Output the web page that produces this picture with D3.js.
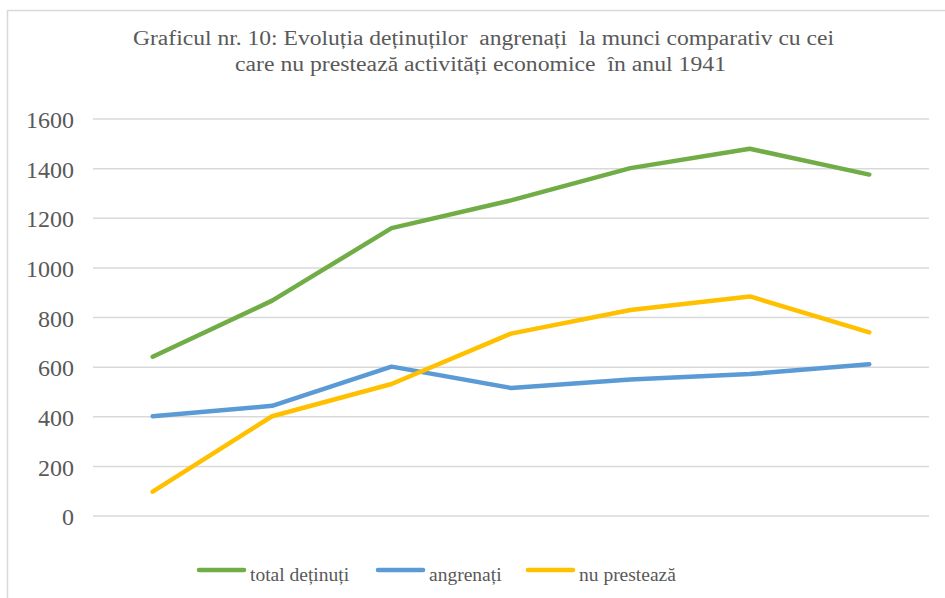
<!DOCTYPE html>
<html>
<head>
<meta charset="utf-8">
<script src="https://cdn.jsdelivr.net/npm/d3@7"></script>
<style>
  body { margin: 0; background: #fff; }
  svg { display: block; }
  svg text { font-family: 'Liberation Serif', 'Times New Roman', Times, 'DejaVu Serif', serif; fill: #595959; white-space: pre; }
</style>
</head>
<body>
<svg></svg>
<script>
// data (no category labels are shown on the x axis)
var categories = ['1', '2', '3', '4', '5', '6', '7'];
var totalDetinuti = [642, 868, 1160, 1272, 1402, 1480, 1376];
var angrenati = [402, 444, 602, 516, 550, 572, 612];
var nuPresteaza = [98, 402, 532, 735, 830, 885, 740];
var yTicks = [0, 200, 400, 600, 800, 1000, 1200, 1400, 1600];

var titleLines = [
    'Graficul nr. 10: Evoluția deținuților  angrenați  la munci comparativ cu cei',
    'care nu prestează activități economice  în anul 1941'
];

var series = [
    { name: 'total deținuți', values: totalDetinuti, color: '#70ad47' },
    { name: 'angrenați', values: angrenati, color: '#5b9bd5' },
    { name: 'nu prestează', values: nuPresteaza, color: '#ffc000' }
];

var serif = "'Liberation Serif', 'Times New Roman', Times, 'DejaVu Serif', serif";

function start() {
    var svg = d3.select('svg')
        .attr('width', 945)
        .attr('height', 598);

    // chart frame (only top and left edges are visible in the crop)
    svg.append('rect')
        .attr('x', 7.5).attr('y', 10.5)
        .attr('width', 1000).attr('height', 1000)
        .attr('fill', 'none')
        .attr('stroke', '#d9d9d9')
        .attr('stroke-width', 1.5);

    // title
    svg.append('g').selectAll('text')
        .data(titleLines)
        .enter().append('text')
        .attr('x', function(d, i) { return i === 0 ? 133 : 235; })
        .attr('y', function(d, i) { return 44.5 + i * 26; })
        .attr('textLength', function(d, i) { return i === 0 ? 701 : 491; })
        .attr('lengthAdjust', 'spacingAndGlyphs')
        .attr('font-family', serif)
        .style('font-size', '20px')
        .text(function(d) { return d; });

    var x = d3.scaleBand()
        .domain(categories)
        .range([93, 929]);

    var y = d3.scaleLinear()
        .domain([0, 1600])
        .range([516, 119]);

    // gridlines
    svg.append('g').selectAll('line')
        .data(yTicks)
        .enter().append('line')
        .attr('x1', 93).attr('x2', 929)
        .attr('y1', function(d) { return y(d); })
        .attr('y2', function(d) { return y(d); })
        .attr('stroke', '#d9d9d9')
        .attr('stroke-width', 1.5);

    // y axis labels
    var yAxis = d3.axisLeft(y)
        .tickValues(yTicks)
        .tickFormat(d3.format('d'))
        .tickSize(0)
        .tickPadding(0);
    var ga = svg.append('g')
        .attr('transform', 'translate(74,0)')
        .call(yAxis)
        .attr('font-family', serif)
        .attr('font-size', 24);
    ga.select('.domain').remove();
    ga.selectAll('text')
        .attr('dy', '0.36em')
        .attr('fill', '#595959');

    var line = d3.line()
        .x(function(d, i) { return x(categories[i]) + x.bandwidth() / 2; })
        .y(function(d) { return y(d); });

    svg.append('g').selectAll('path')
        .data(series)
        .enter().append('path')
        .attr('d', function(d) { return line(d.values); })
        .attr('fill', 'none')
        .attr('stroke', function(d) { return d.color; })
        .attr('stroke-width', 4.5)
        .attr('stroke-linecap', 'round')
        .attr('stroke-linejoin', 'round');

    // legend
    var legendX = [199, 378, 528];
    var lg = svg.append('g').selectAll('g')
        .data(series)
        .enter().append('g')
        .attr('transform', function(d, i) { return 'translate(' + legendX[i] + ',570)'; });
    lg.append('line')
        .attr('x1', 0).attr('x2', 45)
        .attr('y1', 0).attr('y2', 0)
        .attr('stroke', function(d) { return d.color; })
        .attr('stroke-width', 4.5)
        .attr('stroke-linecap', 'round');
    lg.append('text')
        .attr('x', 51)
        .attr('y', 11)
        .attr('font-family', serif)
        .style('font-size', '19.5px')
        .text(function(d) { return d.name; });
}

start();
</script>
</body>
</html>
